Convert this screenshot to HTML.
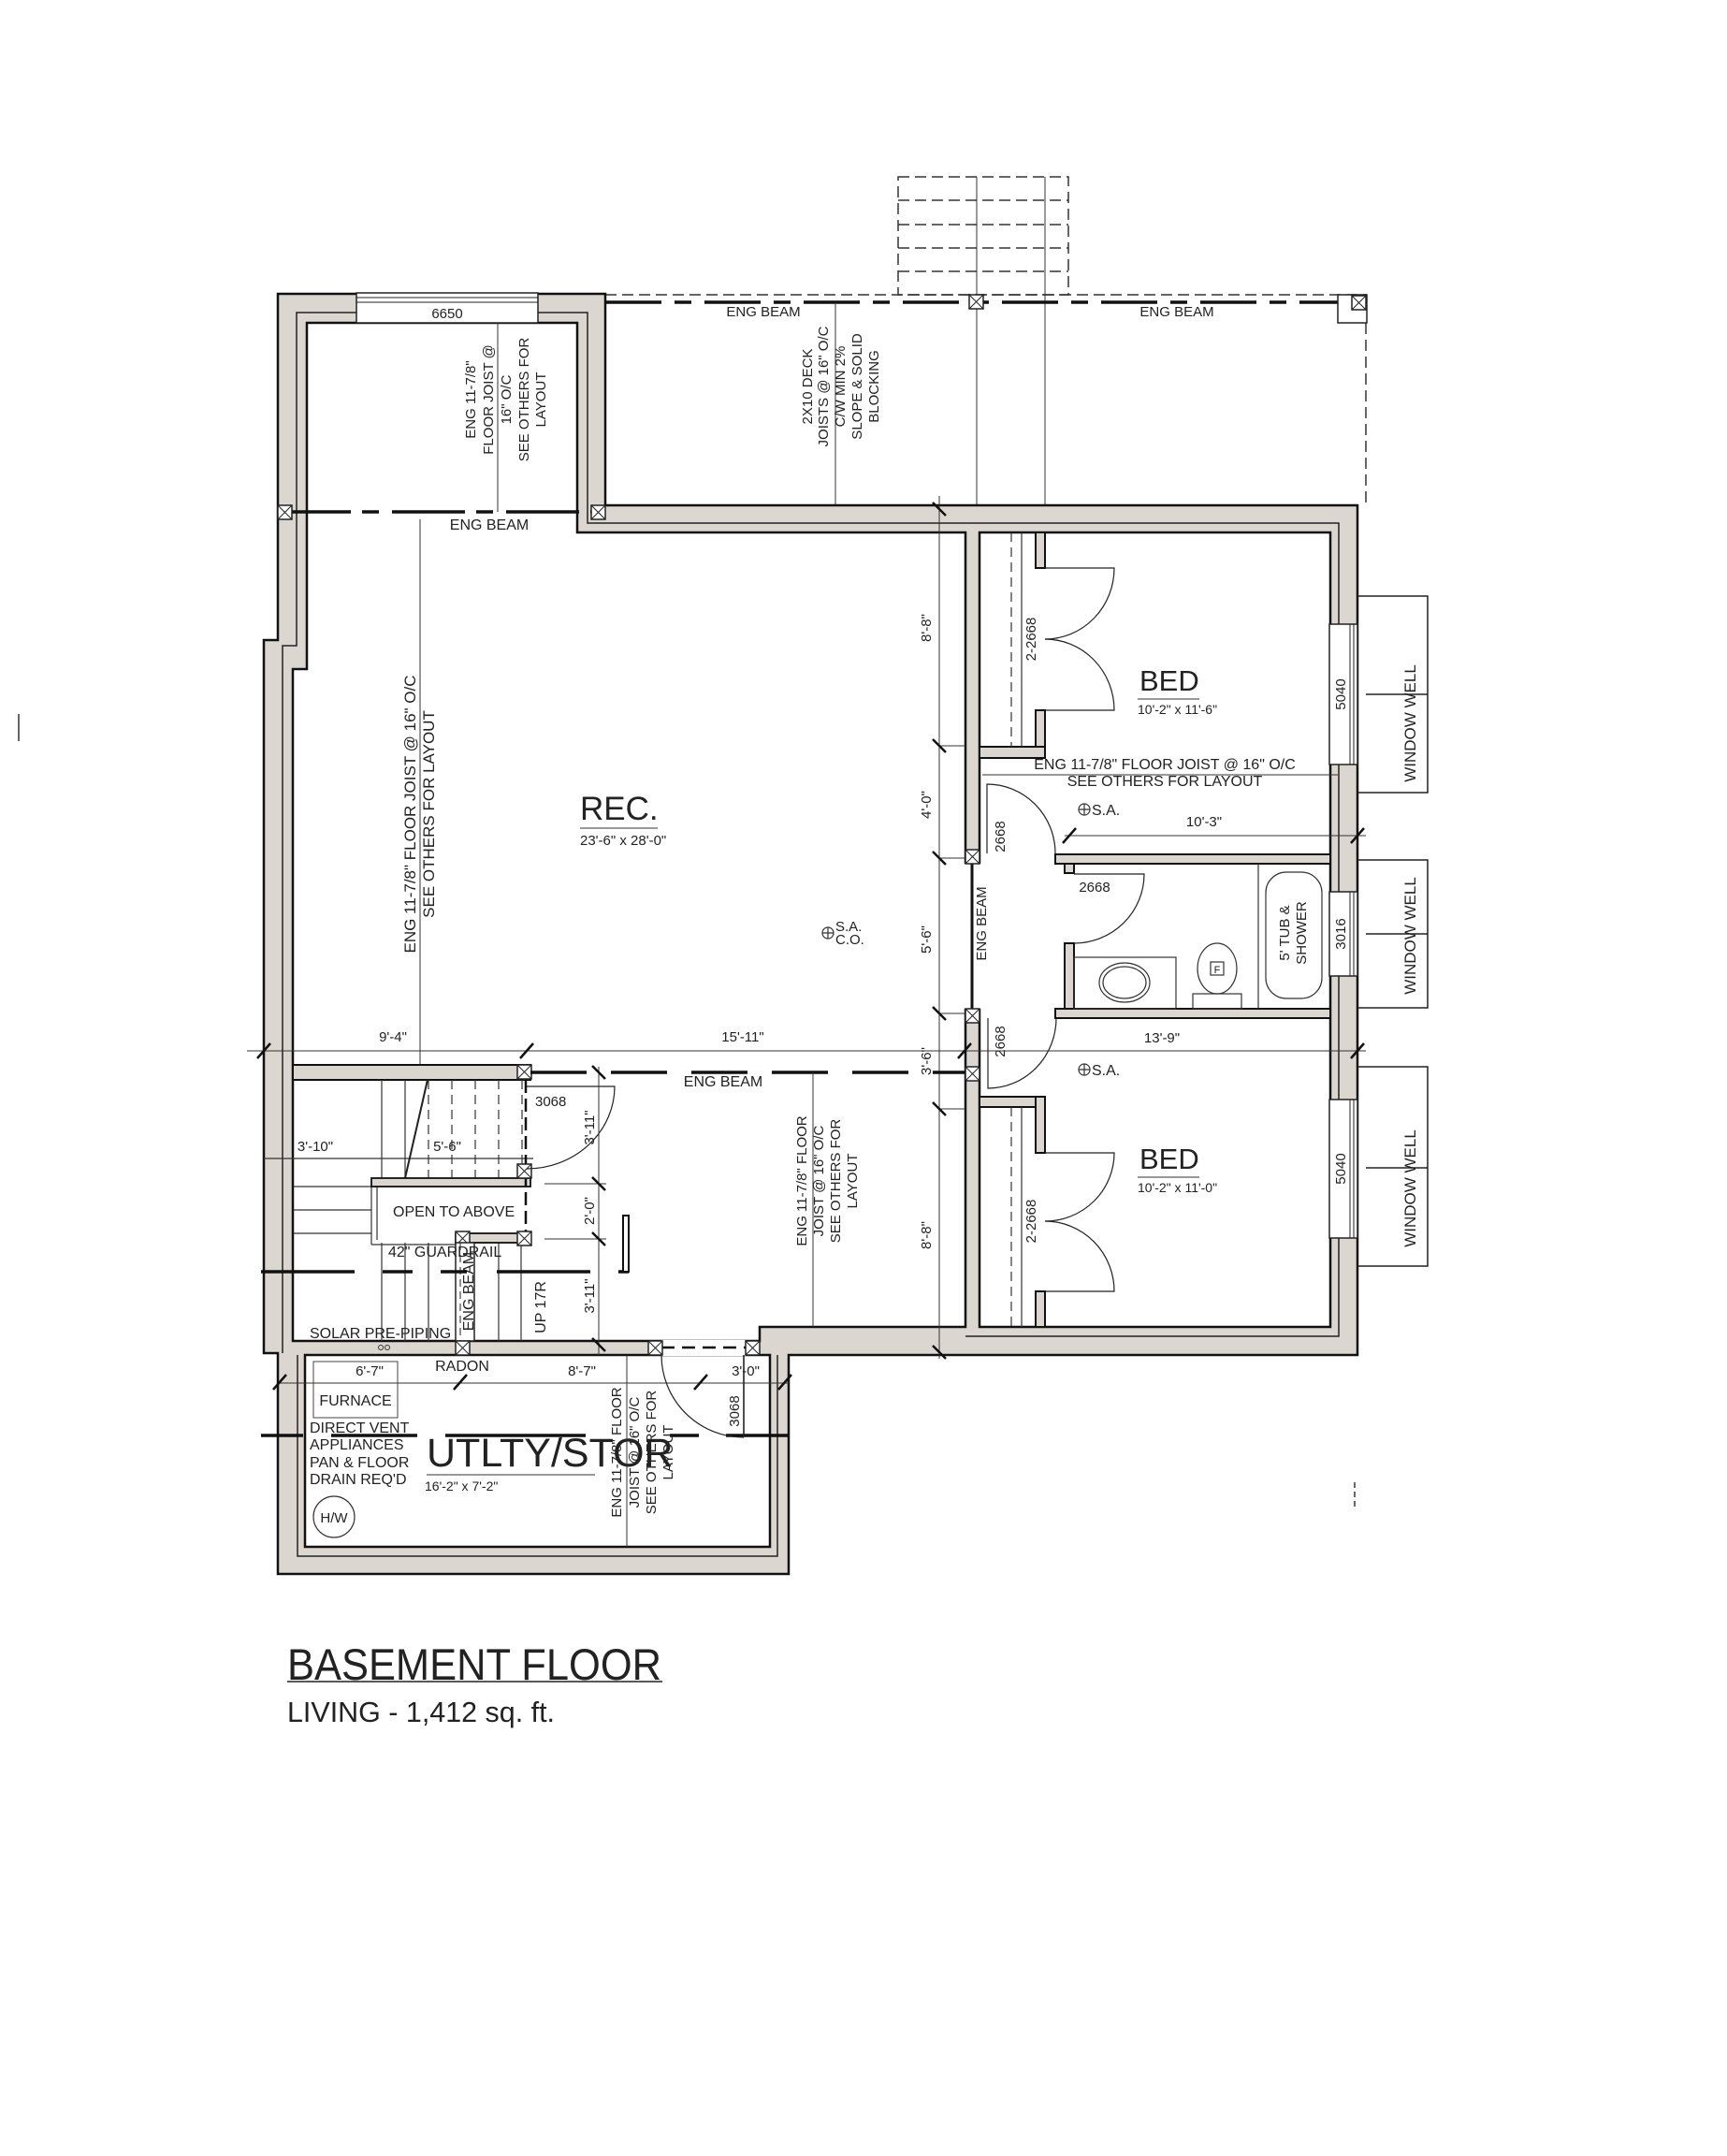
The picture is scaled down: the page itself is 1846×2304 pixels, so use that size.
<!DOCTYPE html>
<html><head><meta charset="utf-8"><style>
html,body{margin:0;padding:0;background:#fff;}
svg{display:block;}
text{font-family:"Liberation Sans",sans-serif;fill:#222;}
</style></head><body>
<svg width="1846" height="2304" viewBox="0 0 1846 2304" xmlns="http://www.w3.org/2000/svg">
<defs>
<g id="bx"><rect x="0" y="0" width="15" height="15" fill="#fff" stroke="#222" stroke-width="1.5"/><path d="M0 0L15 15M15 0L0 15" stroke="#222" stroke-width="1"/></g>
</defs>
<rect width="1846" height="2304" fill="#fff"/>

<!-- deck area -->
<g stroke="#333" stroke-width="1.5" fill="none" stroke-dasharray="12 6">
<rect x="960" y="189" width="182" height="126"/>
<line x1="960" y1="214" x2="1142" y2="214"/><line x1="960" y1="240" x2="1142" y2="240"/>
<line x1="960" y1="265" x2="1142" y2="265"/><line x1="960" y1="290" x2="1142" y2="290"/>
<line x1="647" y1="315" x2="1461" y2="315"/>
<line x1="1460" y1="345" x2="1460" y2="540"/>
</g>
<line x1="1044" y1="189" x2="1044" y2="560" stroke="#333" stroke-width="1"/>
<line x1="1117" y1="189" x2="1117" y2="560" stroke="#333" stroke-width="1"/>
<line x1="647" y1="323" x2="1461" y2="323" stroke="#111" stroke-width="3.5" stroke-dasharray="60 14 18 14"/>
<rect x="1430" y="315" width="31" height="30" fill="#fff" stroke="#222" stroke-width="1.5"/>
<use href="#bx" x="1036" y="315"/><use href="#bx" x="1445" y="316"/><use href="#bx" x="632" y="315"/>
<line x1="893" y1="323" x2="893" y2="540" stroke="#333" stroke-width="1"/>
<text x="816" y="338" font-size="15" text-anchor="middle">ENG BEAM</text>
<text x="1258" y="338" font-size="15" text-anchor="middle">ENG BEAM</text>
<g font-size="15" text-anchor="middle">
<text transform="translate(868 413) rotate(-90)">2X10 DECK</text>
<text transform="translate(885 413) rotate(-90)">JOISTS @ 16" O/C</text>
<text transform="translate(903 413) rotate(-90)">C/W MIN 2%</text>
<text transform="translate(921 413) rotate(-90)">SLOPE &amp; SOLID</text>
<text transform="translate(939 413) rotate(-90)">BLOCKING</text>
</g>

<!-- outer footprint (walls gray) -->
<polygon points="297,314 647,314 647,540 1451,540 1451,1448 843,1448 843,1682 297,1682 297,1446 282,1446 282,684 297,684" fill="#dcd6d0" stroke="#111" stroke-width="2.5"/>
<!-- secondary wall lines -->
<polyline points="302,1446 302,690 317,690 317,334 628,334 628,559 1431,559 1431,1428 1032,1428" fill="none" stroke="#222" stroke-width="1.5"/>
<polyline points="318,1448 318,1663 831,1663 831,1448" fill="none" stroke="#222" stroke-width="1.5"/>

<!-- rooms (white) -->
<polygon points="328,345 617,345 617,569 1032,569 1032,1418 812,1418 812,1433 313,1433 313,715 328,715" fill="#fff" stroke="#111" stroke-width="2.5"/>
<rect x="326" y="1448" width="497" height="205" fill="#fff" stroke="#111" stroke-width="2.5"/>
<rect x="1047" y="569" width="375" height="849" fill="#fff" stroke="#111" stroke-width="2.5"/>
<!-- hall opening in rec wall -->
<rect x="1030" y="923" width="20" height="155" fill="#fff"/>
<line x1="1039" y1="923" x2="1039" y2="1078" stroke="#111" stroke-width="3"/>

<!-- windows -->
<rect x="381" y="313" width="194" height="32" fill="#fff" stroke="#222" stroke-width="1.5"/>
<line x1="381" y1="318" x2="575" y2="318" stroke="#222" stroke-width="1"/><line x1="381" y1="323" x2="575" y2="323" stroke="#222" stroke-width="1"/>
<text x="478" y="340" font-size="15" text-anchor="middle">6650</text>
<g fill="#fff" stroke="#222" stroke-width="1.5">
<rect x="1421" y="667" width="30" height="150"/><rect x="1421" y="953" width="30" height="90"/><rect x="1421" y="1175" width="30" height="148"/>
</g>
<g stroke="#222" stroke-width="1">
<line x1="1443" y1="667" x2="1443" y2="817"/><line x1="1447" y1="667" x2="1447" y2="817"/>
<line x1="1443" y1="953" x2="1443" y2="1043"/><line x1="1447" y1="953" x2="1447" y2="1043"/>
<line x1="1443" y1="1175" x2="1443" y2="1323"/><line x1="1447" y1="1175" x2="1447" y2="1323"/>
</g>
<g font-size="15" text-anchor="middle">
<text transform="translate(1438 742) rotate(-90)">5040</text>
<text transform="translate(1438 998) rotate(-90)">3016</text>
<text transform="translate(1438 1249) rotate(-90)">5040</text>
</g>
<!-- window wells -->
<g fill="none" stroke="#222" stroke-width="1.5">
<polyline points="1451,637 1526,637 1526,847 1451,847"/>
<polyline points="1451,919 1526,919 1526,1077 1451,1077"/>
<polyline points="1451,1140 1526,1140 1526,1353 1451,1353"/>
<line x1="1460" y1="742" x2="1526" y2="742"/><line x1="1460" y1="998" x2="1526" y2="998"/><line x1="1460" y1="1248" x2="1526" y2="1248"/>
</g>
<g font-size="17" text-anchor="middle">
<text transform="translate(1513 773) rotate(-90)">WINDOW WELL</text>
<text transform="translate(1513 1000) rotate(-90)">WINDOW WELL</text>
<text transform="translate(1513 1270) rotate(-90)">WINDOW WELL</text>
</g>

<!-- interior walls right block -->
<g fill="#dcd6d0" stroke="#111" stroke-width="2">
<rect x="1107" y="569" width="10" height="38"/>
<rect x="1107" y="759" width="10" height="51"/>
<rect x="1047" y="798" width="70" height="12"/>
<rect x="1128" y="913" width="294" height="10"/>
<rect x="1138" y="923" width="10" height="10"/>
<rect x="1138" y="1008" width="10" height="80"/>
<rect x="1128" y="1078" width="294" height="10"/>
<rect x="1047" y="1172" width="70" height="11"/>
<rect x="1107" y="1172" width="10" height="60"/>
<rect x="1107" y="1380" width="10" height="38"/>
</g>
<!-- closets -->
<g stroke="#333" stroke-width="1.2">
<line x1="1081" y1="569" x2="1081" y2="798" stroke-dasharray="10 6"/><line x1="1092" y1="569" x2="1092" y2="798"/>
<line x1="1081" y1="1183" x2="1081" y2="1418" stroke-dasharray="10 6"/><line x1="1092" y1="1183" x2="1092" y2="1418"/>
</g>
<g fill="none" stroke="#222" stroke-width="1.2">
<path d="M1117 607H1191A74 76 0 0 1 1117 683"/><path d="M1117 759H1191A74 76 0 0 0 1117 683"/>
<path d="M1117 1232H1191A74 73 0 0 1 1117 1305"/><path d="M1117 1380H1191A74 75 0 0 0 1117 1305"/>
<!-- hall doors -->
<path d="M1055 912V838A73 74 0 0 1 1128 912"/>
<path d="M1056 1088V1163A73 75 0 0 0 1129 1088"/>
<path d="M1148 934H1223A75 74 0 0 1 1148 1008"/>
</g>
<g font-size="15" text-anchor="middle">
<text transform="translate(1107 683) rotate(-90)">2-2668</text>
<text transform="translate(1107 1305) rotate(-90)">2-2668</text>
<text transform="translate(1074 894) rotate(-90)">2668</text>
<text transform="translate(1074 1113) rotate(-90)">2668</text>
<text x="1170" y="953">2668</text>
<text transform="translate(1054 987) rotate(-90)">ENG BEAM</text>
</g>
<!-- bath fixtures -->
<g fill="none" stroke="#333" stroke-width="1.2">
<line x1="1345" y1="923" x2="1345" y2="1078"/>
<rect x="1353" y="932" width="60" height="135" rx="22"/>
<rect x="1148" y="1023" width="109" height="55"/>
<ellipse cx="1202" cy="1050" rx="27" ry="21"/><ellipse cx="1202" cy="1050" rx="23" ry="17"/>
<rect x="1275" y="1062" width="52" height="16"/>
<ellipse cx="1301" cy="1035" rx="21" ry="27"/>
<rect x="1294" y="1028" width="14" height="14"/>
</g>
<text x="1301" y="1040" font-size="11" text-anchor="middle">F</text>
<g font-size="15" text-anchor="middle">
<text transform="translate(1378 997) rotate(-90)">5' TUB &amp;</text>
<text transform="translate(1396 997) rotate(-90)">SHOWER</text>
</g>
<!-- bed labels -->
<text x="1218" y="738" font-size="31">BED</text>
<line x1="1216" y1="747" x2="1282" y2="747" stroke="#333" stroke-width="1"/>
<text x="1216" y="763" font-size="14">10'-2" x 11'-6"</text>
<text x="1218" y="1249" font-size="31">BED</text>
<line x1="1216" y1="1258" x2="1282" y2="1258" stroke="#333" stroke-width="1"/>
<text x="1216" y="1274" font-size="14">10'-2" x 11'-0"</text>
<text x="1245" y="822" font-size="16" text-anchor="middle">ENG 11-7/8" FLOOR JOIST @ 16" O/C</text>
<text x="1245" y="840" font-size="16" text-anchor="middle">SEE OTHERS FOR LAYOUT</text>
<line x1="1050" y1="828" x2="1430" y2="828" stroke="#333" stroke-width="1"/>
<g fill="none" stroke="#333" stroke-width="1.2"><circle cx="1159" cy="865" r="6"/><path d="M1153 865h12M1159 859v12"/><circle cx="1159" cy="1143" r="6"/><path d="M1153 1143h12M1159 1137v12"/><circle cx="885" cy="997" r="6"/><path d="M879 997h12M885 991v12"/></g>
<text x="1167" y="871" font-size="16">S.A.</text>
<text x="1167" y="1149" font-size="16">S.A.</text>
<text x="893" y="995" font-size="15">S.A.</text>
<text x="893" y="1009" font-size="15">C.O.</text>
<!-- dims right block -->
<g stroke="#333" stroke-width="1">
<line x1="1138" y1="893" x2="1460" y2="893"/>
<line x1="264" y1="1123" x2="1460" y2="1123"/>
<line x1="1004" y1="530" x2="1004" y2="1452"/>
<line x1="1004" y1="797" x2="1032" y2="797"/><line x1="1004" y1="917" x2="1032" y2="917"/><line x1="1004" y1="1083" x2="1032" y2="1083"/><line x1="1004" y1="1185" x2="1032" y2="1185"/>
</g>
<g stroke="#111" stroke-width="2.5">
<path d="M1136 901l14-16M1444 901l14-16M1444 1131l14-16M275 1131l14-16M556 1131l14-16M1024 1131l14-16"/>
<path d="M997 537l14 14M997 790l14 14M997 910l14 14M997 1076l14 14M997 1178l14 14M997 1438l14 14"/>
</g>
<text x="1287" y="883" font-size="15" text-anchor="middle">10'-3"</text>
<text x="1242" y="1114" font-size="15" text-anchor="middle">13'-9"</text>
<g font-size="15" text-anchor="middle">
<text transform="translate(995 671) rotate(-90)">8'-8"</text>
<text transform="translate(995 860) rotate(-90)">4'-0"</text>
<text transform="translate(995 1004) rotate(-90)">5'-6"</text>
<text transform="translate(995 1134) rotate(-90)">3'-6"</text>
<text transform="translate(995 1320) rotate(-90)">8'-8"</text>
</g>
<text x="420" y="1113" font-size="15" text-anchor="middle">9'-4"</text>
<text x="794" y="1113" font-size="15" text-anchor="middle">15'-11"</text>
<!-- hall boxes -->
<use href="#bx" x="1032" y="908"/><use href="#bx" x="1032" y="1078"/><use href="#bx" x="1032" y="1140"/>

<!-- left room beam & text -->
<line x1="297" y1="547" x2="647" y2="547" stroke="#111" stroke-width="3.5" stroke-dasharray="78 12 18 14"/>
<use href="#bx" x="297" y="540"/><use href="#bx" x="632" y="540"/>
<text x="523" y="566" font-size="16" text-anchor="middle">ENG BEAM</text>
<line x1="532" y1="345" x2="532" y2="547" stroke="#333" stroke-width="1"/>
<g font-size="15" text-anchor="middle">
<text transform="translate(508 427) rotate(-90)">ENG 11-7/8"</text>
<text transform="translate(527 427) rotate(-90)">FLOOR JOIST @</text>
<text transform="translate(546 427) rotate(-90)">16" O/C</text>
<text transform="translate(565 427) rotate(-90)">SEE OTHERS FOR</text>
<text transform="translate(583 427) rotate(-90)">LAYOUT</text>
</g>
<!-- rec -->
<line x1="449" y1="555" x2="449" y2="1138" stroke="#333" stroke-width="1"/>
<g font-size="17" text-anchor="middle">
<text transform="translate(444 870) rotate(-90)">ENG 11-7/8" FLOOR JOIST @ 16" O/C</text>
<text transform="translate(464 870) rotate(-90)">SEE OTHERS FOR LAYOUT</text>
</g>
<text x="620" y="876" font-size="35">REC.</text>
<line x1="620" y1="885" x2="703" y2="885" stroke="#333" stroke-width="1"/>
<text x="620" y="903" font-size="15">23'-6" x 28'-0"</text>

<!-- stair area -->
<rect x="313" y="1138" width="254" height="16" fill="#dcd6d0" stroke="#111" stroke-width="2"/>
<use href="#bx" x="553" y="1138"/>
<g stroke="#333" stroke-width="1.2">
<line x1="408" y1="1154" x2="408" y2="1259"/><line x1="433" y1="1154" x2="433" y2="1259"/>
<g stroke-dasharray="10 6"><line x1="458" y1="1154" x2="458" y2="1259"/><line x1="483" y1="1154" x2="483" y2="1259"/><line x1="508" y1="1154" x2="508" y2="1259"/><line x1="533" y1="1154" x2="533" y2="1259"/><line x1="558" y1="1154" x2="558" y2="1259"/></g>
<line x1="314" y1="1268" x2="397" y2="1268"/><line x1="314" y1="1293" x2="397" y2="1293"/><line x1="314" y1="1318" x2="397" y2="1318"/>
<line x1="408" y1="1328" x2="408" y2="1433"/><line x1="433" y1="1328" x2="433" y2="1433"/><line x1="458" y1="1328" x2="458" y2="1433"/><line x1="533" y1="1328" x2="533" y2="1433"/><line x1="557" y1="1328" x2="557" y2="1433"/>
<line x1="397" y1="1268" x2="397" y2="1330"/><line x1="403" y1="1268" x2="403" y2="1325"/><line x1="397" y1="1330" x2="487" y2="1330"/>
<line x1="282" y1="1238" x2="570" y2="1238"/>
</g>
<line x1="457" y1="1154" x2="433" y2="1259" stroke="#222" stroke-width="2"/>
<rect x="397" y="1259" width="170" height="9" fill="#dcd6d0" stroke="#111" stroke-width="1.8"/>
<rect x="487" y="1318" width="80" height="10" fill="#dcd6d0" stroke="#111" stroke-width="1.8"/>
<line x1="562" y1="1154" x2="562" y2="1318" stroke="#111" stroke-width="2.5" stroke-dasharray="14 6"/>
<use href="#bx" x="553" y="1244"/><use href="#bx" x="553" y="1316"/><use href="#bx" x="487" y="1316"/>
<rect x="487" y="1328" width="20" height="105" fill="#fff" stroke="#222" stroke-width="1.5"/>
<line x1="492" y1="1328" x2="492" y2="1433" stroke="#222" stroke-width="1" stroke-dasharray="8 5"/>
<text x="420" y="1300" font-size="16">OPEN TO ABOVE</text>
<text x="415" y="1343" font-size="16">42" GUARDRAIL</text>
<text transform="translate(506 1380) rotate(-90)" font-size="16" text-anchor="middle">ENG BEAM</text>
<text transform="translate(583 1397) rotate(-90)" font-size="16" text-anchor="middle">UP 17R</text>
<text x="337" y="1230" font-size="15" text-anchor="middle">3'-10"</text>
<text x="478" y="1230" font-size="15" text-anchor="middle">5'-6"</text>
<text x="331" y="1430" font-size="16">SOLAR PRE-PIPING</text>
<circle cx="407" cy="1440" r="2.5" fill="none" stroke="#333"/><circle cx="414" cy="1440" r="2.5" fill="none" stroke="#333"/>
<!-- beam across stairs -->
<line x1="279" y1="1359" x2="672" y2="1359" stroke="#111" stroke-width="3.5" stroke-dasharray="100 30 32 30 28 32"/>
<rect x="666" y="1299" width="6" height="60" fill="#fff" stroke="#111" stroke-width="2"/>
<!-- stair door -->
<path d="M563 1161H657A94 88 0 0 1 563 1249" fill="none" stroke="#222" stroke-width="1.2"/>
<text x="572" y="1182" font-size="15">3068</text>
<!-- lower ENG BEAM in middle -->
<line x1="567" y1="1146" x2="1032" y2="1146" stroke="#111" stroke-width="3.5" stroke-dasharray="60 26 60 26"/>
<text x="773" y="1161" font-size="16" text-anchor="middle">ENG BEAM</text>
<line x1="869" y1="1146" x2="869" y2="1418" stroke="#333" stroke-width="1"/>
<g font-size="15" text-anchor="middle">
<text transform="translate(862 1262) rotate(-90)">ENG 11-7/8" FLOOR</text>
<text transform="translate(880 1262) rotate(-90)">JOIST @ 16" O/C</text>
<text transform="translate(898 1262) rotate(-90)">SEE OTHERS FOR</text>
<text transform="translate(916 1262) rotate(-90)">LAYOUT</text>
</g>
<!-- 3'-11 / 2'-0 dims -->
<g stroke="#333" stroke-width="1">
<line x1="640" y1="1140" x2="640" y2="1448"/>
<line x1="582" y1="1265" x2="648" y2="1265"/><line x1="582" y1="1324" x2="648" y2="1324"/>
</g>
<g stroke="#111" stroke-width="2.5"><path d="M633 1139l14 14M633 1258l14 14M633 1317l14 14M633 1430l14 14"/></g>
<g font-size="15" text-anchor="middle">
<text transform="translate(635 1205) rotate(-90)">3'-11"</text>
<text transform="translate(635 1294) rotate(-90)">2'-0"</text>
<text transform="translate(635 1385) rotate(-90)">3'-11"</text>
</g>

<!-- utility top wall openings -->
<rect x="707" y="1432" width="90" height="17" fill="#fff"/>
<line x1="707" y1="1440" x2="797" y2="1440" stroke="#111" stroke-width="2.5" stroke-dasharray="14 8"/>
<use href="#bx" x="693" y="1433"/><use href="#bx" x="797" y="1433"/><use href="#bx" x="487" y="1433"/>
<!-- utility -->
<line x1="297" y1="1478" x2="843" y2="1478" stroke="#333" stroke-width="1"/>
<g stroke="#111" stroke-width="2.5"><path d="M292 1485l14-16M485 1485l14-16M742 1485l14-16M832 1485l14-16"/></g>
<text x="395" y="1470" font-size="15" text-anchor="middle">6'-7"</text>
<text x="494" y="1465" font-size="16" text-anchor="middle">RADON</text>
<text x="622" y="1470" font-size="15" text-anchor="middle">8'-7"</text>
<text x="797" y="1470" font-size="15" text-anchor="middle">3'-0"</text>
<rect x="335" y="1455" width="90" height="60" fill="none" stroke="#444" stroke-width="1"/>
<text x="380" y="1502" font-size="16" text-anchor="middle">FURNACE</text>
<line x1="279" y1="1534" x2="843" y2="1534" stroke="#111" stroke-width="3.5" stroke-dasharray="45 30 92 30 150 90 31 29 70 0"/>
<g font-size="16"><text x="331" y="1531">DIRECT VENT</text><text x="331" y="1549">APPLIANCES</text><text x="331" y="1568">PAN &amp; FLOOR</text><text x="331" y="1586">DRAIN REQ'D</text></g>
<text x="456" y="1567" font-size="43">UTLTY/STOR</text>
<line x1="456" y1="1576" x2="636" y2="1576" stroke="#333" stroke-width="1"/>
<text x="454" y="1593" font-size="14">16'-2" x 7'-2"</text>
<circle cx="357" cy="1621" r="22" fill="none" stroke="#333" stroke-width="1.2"/>
<text x="357" y="1627" font-size="15" text-anchor="middle">H/W</text>
<line x1="670" y1="1448" x2="670" y2="1653" stroke="#333" stroke-width="1"/>
<g font-size="15" text-anchor="middle">
<text transform="translate(664 1552) rotate(-90)">ENG 11-7/8" FLOOR</text>
<text transform="translate(683 1552) rotate(-90)">JOIST @ 16" O/C</text>
<text transform="translate(701 1552) rotate(-90)">SEE OTHERS FOR</text>
<text transform="translate(719 1552) rotate(-90)">LAYOUT</text>
</g>
<path d="M795 1448V1536M707 1448A88 88 0 0 0 795 1536" fill="none" stroke="#222" stroke-width="1.2"/>
<line x1="795" y1="1448" x2="795" y2="1536" stroke="#222" stroke-width="1.5"/>
<text transform="translate(790 1508) rotate(-90)" font-size="15" text-anchor="middle">3068</text>

<!-- stray marks -->
<line x1="20" y1="763" x2="20" y2="792" stroke="#333" stroke-width="1.5"/>
<line x1="1448" y1="1584" x2="1448" y2="1610" stroke="#333" stroke-width="1.5" stroke-dasharray="6 4"/>

<!-- title -->
<text x="307" y="1795" font-size="47" textLength="400" lengthAdjust="spacingAndGlyphs" style="font-weight:normal">BASEMENT FLOOR</text>
<line x1="307" y1="1797" x2="708" y2="1797" stroke="#222" stroke-width="1.5"/>
<text x="307" y="1840" font-size="31" textLength="286" lengthAdjust="spacingAndGlyphs">LIVING - 1,412 sq. ft.</text>
</svg>
</body></html>
